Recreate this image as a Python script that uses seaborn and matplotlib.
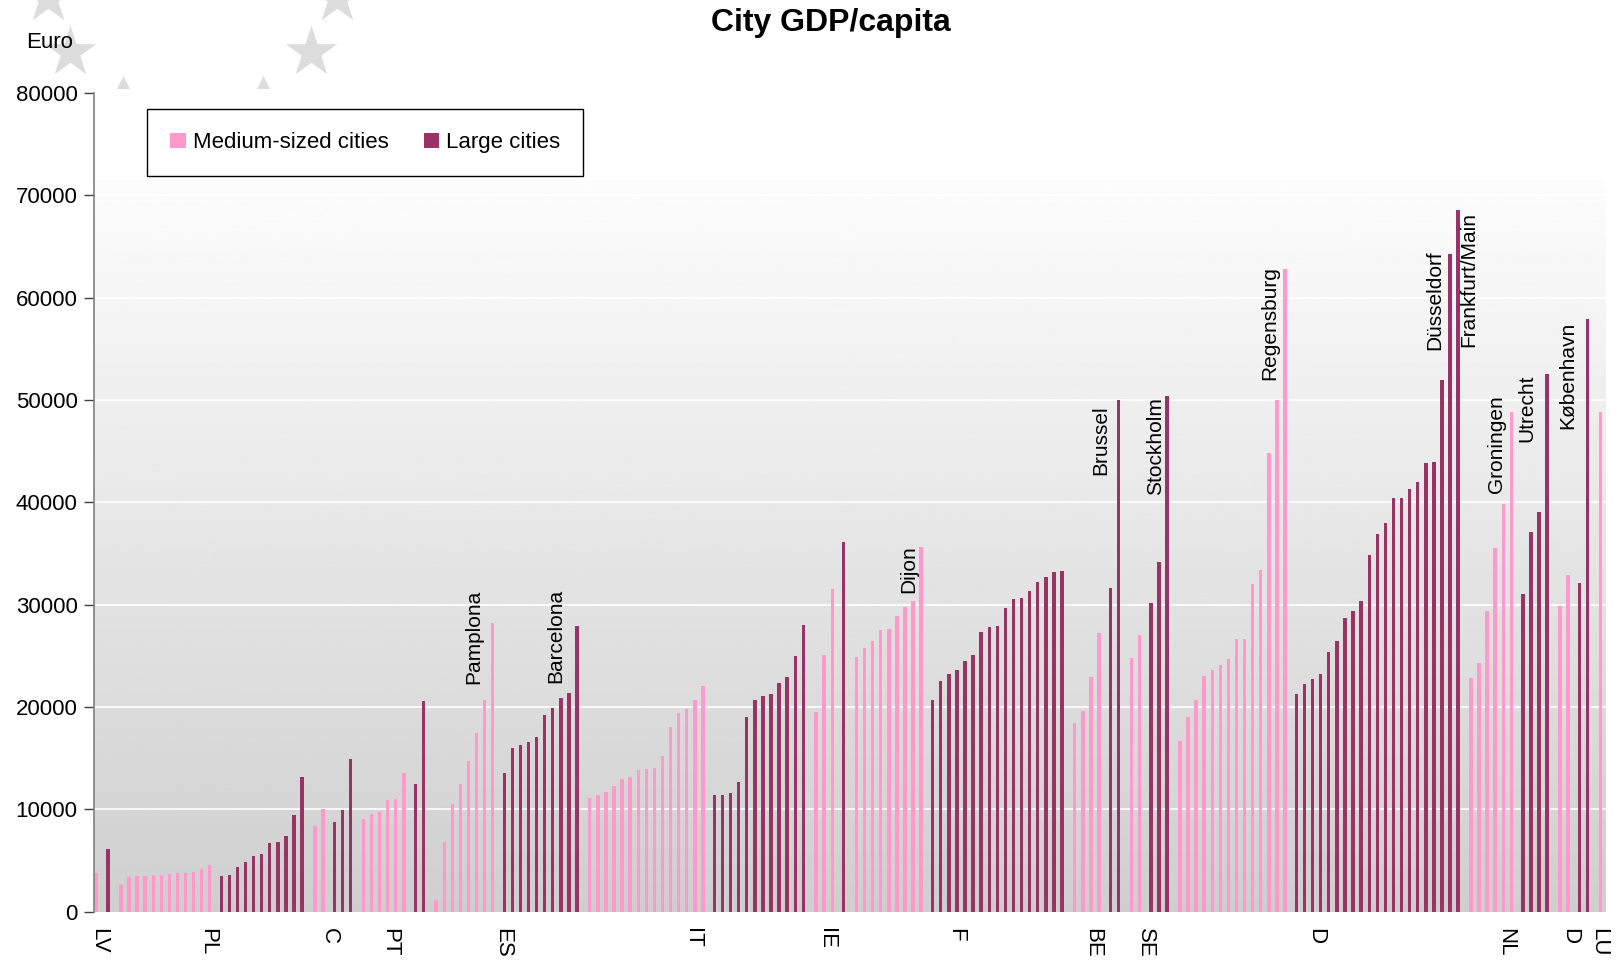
import numpy as np
import pandas as pd
import matplotlib
matplotlib.use('Agg')
import matplotlib.pyplot as plt
from matplotlib.patches import Patch
import seaborn as sns

# GDP per capita (Euro), per country: medium-sized cities then large cities, ascending
countries = ['LV', 'PL', 'C', 'PT', 'ES', 'IT', 'IE', 'F', 'BE', 'SE', 'D', 'NL', 'DK', 'LU']
tick_labels = ['LV', 'PL', 'C', 'PT', 'ES', 'IT', 'IE', 'F', 'BE', 'SE', 'D', 'NL', 'D', 'LU']

medium = {
    'LV': [3800],
    'PL': [2600, 3400, 3500, 3500, 3600, 3600, 3700, 3800, 3800, 3900, 4200, 4600],
    'C': [8400, 10000],
    'PT': [9100, 9500, 9700, 10900, 11000, 13500],
    'ES': [1100, 6800, 10500, 12500, 14700, 17500, 20700, 28200],
    'IT': [11100, 11400, 11700, 12300, 13000, 13200, 13800, 13900, 14000, 15200,
           18000, 19400, 19800, 20700, 22000],
    'IE': [19500, 25100, 31500],
    'F': [24900, 25800, 26400, 27500, 27600, 28900, 29800, 30400, 35600],
    'BE': [18400, 19600, 22900, 27200],
    'SE': [24800, 27000],
    'D': [16700, 19000, 20700, 23000, 23600, 24100, 24700, 26600, 26600, 32000,
          33400, 44800, 50000, 62800],
    'NL': [22800, 24300, 29400, 35500, 39800, 48800],
    'DK': [29900, 32900],
    'LU': [48800],
}
large = {
    'LV': [6100],
    'PL': [3500, 3600, 4400, 4900, 5400, 5600, 6700, 6800, 7400, 9400, 13200],
    'C': [8800, 9900, 14900],
    'PT': [12500, 20600],
    'ES': [13500, 16000, 16300, 16600, 17100, 19200, 19900, 20900, 21400, 27900],
    'IT': [11400, 11400, 11600, 12700, 19000, 20700, 21100, 21300, 22300, 22900, 25000, 28000],
    'IE': [36100],
    'F': [20700, 22500, 23200, 23600, 24500, 25100, 27300, 27800, 27900, 29700, 30500,
          30600, 31300, 32200, 32700, 33200, 33300],
    'BE': [31600, 50000],
    'SE': [30200, 34200, 50400],
    'D': [21300, 22200, 22700, 23200, 25400, 26400, 28700, 29400, 30400, 34800, 36900,
          38000, 40400, 40400, 41300, 42000, 43800, 43900, 51900, 64300, 68600],
    'NL': [31000, 37100, 39000, 52500],
    'DK': [32100, 57900],
    'LU': [],
}

# named cities: (name, country, kind, index in group, label x shift, label top)
city_labels = [
    ('Pamplona', 'ES', 'm', 7, -2.4, 31500),
    ('Barcelona', 'ES', 'l', 9, -2.65, 31500),
    ('Dijon', 'F', 'm', 8, -1.6, 35800),
    ('Brussel', 'BE', 'l', 1, -2.25, 49500),
    ('Stockholm', 'SE', 'l', 2, -1.45, 50300),
    ('Regensburg', 'D', 'm', 13, -1.9, 63100),
    ('Düsseldorf', 'D', 'l', 19, -1.95, 64600),
    ('Frankfurt/Main', 'D', 'l', 20, 1.36, 68400),
    ('Groningen', 'NL', 'm', 5, -1.85, 50500),
    ('Utrecht', 'NL', 'l', 3, -2.45, 52450),
    ('København', 'DK', 'l', 1, -2.5, 57600),
]

MED = 'Medium-sized cities'
LRG = 'Large cities'

# build one category slot per city, plus an empty slot between countries
rows = []
slot = 0
group_center = []
slot_of = {}
for i, c in enumerate(countries):
    start = slot
    for j, v in enumerate(medium[c]):
        rows.append((str(slot), v, MED))
        slot_of[(c, 'm', j)] = slot
        slot += 1
    for j, v in enumerate(large[c]):
        rows.append((str(slot), v, LRG))
        slot_of[(c, 'l', j)] = slot
        slot += 1
    group_center.append((start + slot - 1) / 2 - 0.45)
    if i < len(countries) - 1:
        slot += 1
n_slots = slot
df = pd.DataFrame(rows, columns=['slot', 'gdp', 'kind'])

sns.set_style('white')
plt.rcParams['font.family'] = ['Liberation Sans', 'DejaVu Sans']
plt.rcParams['text.color'] = 'black'
plt.rcParams['xtick.color'] = 'black'
plt.rcParams['ytick.color'] = 'black'

fig = plt.figure(figsize=(16.17, 9.63), dpi=100)

# decorative EU stars behind everything
bg = fig.add_axes([0, 0, 1, 1])
bg.set_xlim(0, 1617)
bg.set_ylim(963, 0)
bg.axis('off')
bg.scatter([48, 70, 337, 311], [-2, 52, -2, 52], marker='*', s=1500, color='#dcdcdc', lw=0)
bg.scatter([123, 263], [82, 82], marker='^', s=90, color='#dcdcdc', lw=0)

ax = fig.add_axes([0.0583, 0.0533, 0.9349, 0.8503])
ax.set_facecolor('white')

grad = np.linspace(0.99, 0.81, 256).reshape(-1, 1)
ax.imshow(grad, extent=[-0.5, n_slots - 0.5, 0, 71500], aspect='auto',
          cmap='gray', vmin=0, vmax=1, zorder=0)
for gy in range(10000, 80000, 10000):
    ax.axhline(gy, color='white', lw=1.2, zorder=0.5)

sns.barplot(data=df, x='slot', y='gdp', hue='kind', order=[str(k) for k in range(n_slots)],
            hue_order=[MED, LRG], palette={MED: '#FF99CC', LRG: '#993366'},
            width=0.84, dodge=True, saturation=1, errorbar=None, legend=False,
            linewidth=0, edgecolor='none', ax=ax, zorder=2)

ax.set_xlim(-0.5, n_slots - 0.5)
ax.set_ylim(0, 80000)
ax.set_yticks(range(0, 80001, 10000))
ax.set_yticklabels([str(v) for v in range(0, 80001, 10000)], fontsize=16)
ax.set_xticks(group_center)
ax.set_xticklabels(tick_labels, rotation=-90, fontsize=16, va='top', ha='center')
ax.tick_params(axis='x', length=0, pad=12)
ax.tick_params(axis='y', length=7, width=1, direction='out', pad=5, color='#404040', left=True)
ax.set_xlabel('')
ax.set_ylabel('')
for s in ['top', 'right', 'bottom']:
    ax.spines[s].set_visible(False)
ax.spines['left'].set_color('#808080')
ax.spines['left'].set_linewidth(1.2)

for name, c, kind, j, dx, top in city_labels:
    xb = slot_of[(c, kind, j)] + (-0.21 if kind == 'm' else 0.21)
    ax.text(xb + dx, top, name, rotation=90, ha='center', va='top', fontsize=15, zorder=3)

handles = [Patch(facecolor='#FF99CC', edgecolor='none'), Patch(facecolor='#993366', edgecolor='none')]
leg = ax.legend(handles, [MED, LRG], loc='upper left', bbox_to_anchor=(0.0352, 0.980),
                ncol=2, fontsize=16, frameon=True, fancybox=False, framealpha=1,
                edgecolor='black', handlelength=0.7, handleheight=0.7, handletextpad=0.3,
                columnspacing=1.6, borderpad=1.03, borderaxespad=0)
leg.get_frame().set_linewidth(1)

fig.text(0.514, 0.976, 'City GDP/capita', ha='center', va='center', fontsize=23, weight='bold')
fig.text(26 / 1617, 1 - 43 / 963, 'Euro', ha='left', va='center', fontsize=16)

fig.savefig('out.png', dpi=100)
